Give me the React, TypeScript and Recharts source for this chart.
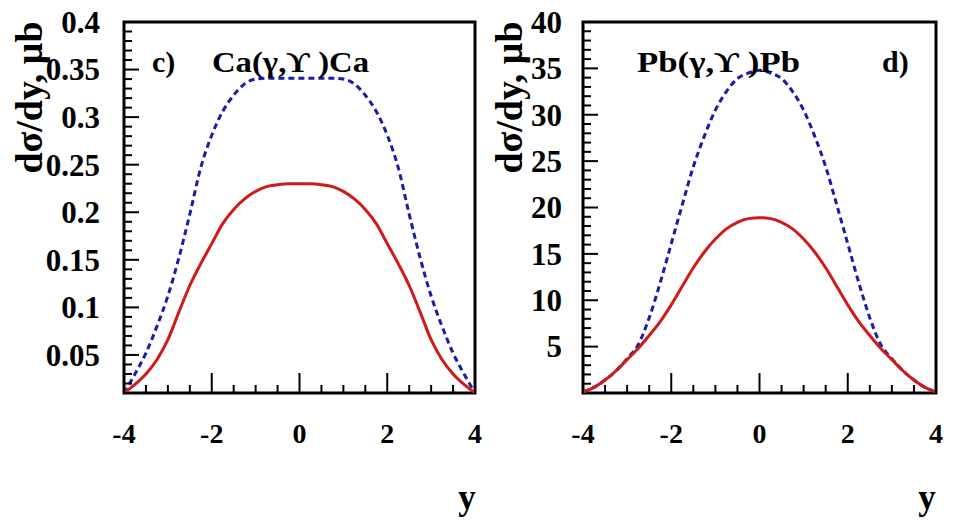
import { Line, LineChart, ReferenceArea, XAxis, YAxis } from "recharts";

const FONT = "Liberation Serif, DejaVu Serif, Times New Roman, serif";
const RED = "#d01a1a";
const BLUE = "#1c1ca6";

// rapidity grid
const rapidity = [
  -4, -3.75, -3.5, -3.25, -3, -2.75, -2.5, -2.25, -2, -1.75, -1.5, -1.25, -1,
  -0.75, -0.5, -0.25, 0, 0.25, 0.5, 0.75, 1, 1.25, 1.5, 1.75, 2, 2.25, 2.5,
  2.75, 3, 3.25, 3.5, 3.75, 4,
];

// Ca(γ,Υ)Ca, μb
const caSolid = [
  0.01, 0.019, 0.03, 0.045, 0.066, 0.095, 0.123, 0.146, 0.167, 0.188, 0.203,
  0.214, 0.222, 0.227, 0.229, 0.23, 0.23, 0.23, 0.229, 0.227, 0.222, 0.214,
  0.203, 0.188, 0.167, 0.146, 0.123, 0.095, 0.066, 0.045, 0.03, 0.019, 0.01,
];
const caDashed = [
  0.01, 0.03, 0.052, 0.08, 0.112, 0.152, 0.198, 0.247, 0.281, 0.306, 0.323,
  0.335, 0.34, 0.341, 0.341, 0.341, 0.341, 0.341, 0.341, 0.341, 0.34, 0.335,
  0.323, 0.306, 0.281, 0.247, 0.198, 0.152, 0.112, 0.08, 0.052, 0.03, 0.01,
];

// Pb(γ,Υ)Pb, μb
const pbSolid = [
  0.1, 0.6, 1.4, 2.4, 3.6, 4.8, 6.2, 7.7, 9.5, 11.5, 13.5, 15.2, 16.6, 17.7,
  18.4, 18.8, 18.9, 18.8, 18.4, 17.7, 16.6, 15.2, 13.5, 11.5, 9.5, 7.7, 6.2,
  4.8, 3.6, 2.4, 1.4, 0.6, 0.1,
];
const pbDashed = [
  0.1, 0.6, 1.4, 2.4, 3.7, 5.2, 8.1, 11.9, 16.1, 20.3, 24.4, 27.7, 30.5, 32.5,
  33.9, 34.5, 34.8, 34.5, 33.9, 32.5, 30.5, 27.7, 24.4, 20.3, 16.1, 11.9, 8.1,
  5.2, 3.7, 2.4, 1.4, 0.6, 0.1,
];

// axis ticks
const xMajorTicks = [-4, -2, 0, 2, 4];
const caYMajorTicks = [0.05, 0.1, 0.15, 0.2, 0.25, 0.3, 0.35, 0.4];
const pbYMajorTicks = [5, 10, 15, 20, 25, 30, 35, 40];

const xTicks = Array.from({ length: 17 }, (_, i) => i / 2 - 4);
const caYTicks = Array.from({ length: 40 }, (_, i) => (i + 1) / 100);
const pbYTicks = Array.from({ length: 40 }, (_, i) => i + 1);

const caRows = rapidity.map((y, i) => ({ y, solid: caSolid[i], dashed: caDashed[i] }));
const pbRows = rapidity.map((y, i) => ({ y, solid: pbSolid[i], dashed: pbDashed[i] }));

const isIn = (list: number[], v: number) => list.some((m) => Math.abs(m - v) < 1e-9);

const labelStyle = { fontFamily: FONT, fontWeight: 700 };

function XTick(props: any) {
  const { x, y, payload } = props;
  const major = isIn(xMajorTicks, payload.value);
  return (
    <g>
      <line x1={x} y1={y} x2={x} y2={y - (major ? 20 : 8)} stroke="#000" strokeWidth={2} />
      {major && (
        <text x={x} y={y + 50} textAnchor="middle" style={labelStyle} fontSize={28} fill="#000">
          {String(payload.value)}
        </text>
      )}
    </g>
  );
}

function makeYTick(majors: number[], gap: number) {
  return function YTick(props: any) {
    const { x, y, payload } = props;
    const major = isIn(majors, payload.value);
    return (
      <g>
        <line x1={x} y1={y} x2={x + (major ? 15 : 8)} y2={y} stroke="#000" strokeWidth={2} />
        {major && (
          <text x={x - gap} y={y} dy="0.35em" textAnchor="end" style={labelStyle} fontSize={31} fill="#000">
            {String(payload.value)}
          </text>
        )}
      </g>
    );
  };
}

type PanelProps = {
  rows: Array<{ y: number; solid: number; dashed: number }>;
  yDomain: [number, number];
  yTicks: number[];
  yMajors: number[];
  labelGap: number;
  width: number;
  marginLeft: number;
  marginRight: number;
};

function Panel({ rows, yDomain, yTicks, yMajors, labelGap, width, marginLeft, marginRight }: PanelProps) {
  return (
    <LineChart
      width={width}
      height={522}
      data={rows}
      margin={{ top: 22, right: marginRight, bottom: 89, left: marginLeft }}
      style={{ overflow: "visible" }}
    >
      <XAxis
        dataKey="y"
        type="number"
        domain={[-4, 4]}
        ticks={xTicks}
        interval={0}
        tickSize={0}
        tickMargin={0}
        axisLine={false}
        tick={XTick}
        height={40}
        allowDataOverflow
      />
      <YAxis
        type="number"
        domain={yDomain}
        ticks={yTicks}
        interval={0}
        tickSize={0}
        tickMargin={0}
        axisLine={false}
        tick={makeYTick(yMajors, labelGap)}
        width={100}
        allowDataOverflow
      />
      <Line
        dataKey="dashed"
        type="monotone"
        stroke={BLUE}
        strokeWidth={3}
        strokeDasharray="6 4"
        dot={false}
        isAnimationActive={false}
      />
      <Line
        dataKey="solid"
        type="monotone"
        stroke={RED}
        strokeWidth={3}
        dot={false}
        isAnimationActive={false}
      />
      <ReferenceArea
        x1={-4}
        x2={4}
        y1={yDomain[0]}
        y2={yDomain[1]}
        fill="none"
        fillOpacity={0}
        stroke="#000"
        strokeWidth={3}
        ifOverflow="visible"
      />
    </LineChart>
  );
}

export default function App() {
  const text = { style: labelStyle, fill: "#000" };
  return (
    <div
      style={{
        position: "absolute",
        left: 0,
        top: 0,
        width: 955,
        height: 522,
        background: "#fff",
        fontFamily: FONT,
      }}
    >
      <div style={{ position: "absolute", left: 0, top: 0 }}>
        <Panel
          rows={caRows}
          yDomain={[0.01, 0.4]}
          yTicks={caYTicks}
          yMajors={caYMajorTicks}
          labelGap={24}
          width={500}
          marginLeft={24}
          marginRight={25}
        />
      </div>
      <div style={{ position: "absolute", left: 480, top: 0 }}>
        <Panel
          rows={pbRows}
          yDomain={[0, 40]}
          yTicks={pbYTicks}
          yMajors={pbYMajorTicks}
          labelGap={21}
          width={475}
          marginLeft={3}
          marginRight={19}
        />
      </div>
      <svg
        width={955}
        height={522}
        style={{ position: "absolute", left: 0, top: 0, pointerEvents: "none" }}
      >
        <text {...text} fontSize={38} textAnchor="middle" transform="translate(42,97.5) rotate(-90)">
          dσ/dy, μb
        </text>
        <text {...text} fontSize={38} textAnchor="middle" transform="translate(522,97.5) rotate(-90)">
          dσ/dy, μb
        </text>
        <text {...text} fontSize={30} x={152} y={72}>
          c)
        </text>
        <text {...text} fontSize={30} x={212} y={72} textLength={157} lengthAdjust="spacingAndGlyphs">
          Ca(γ,ϒ )Ca
        </text>
        <text {...text} fontSize={30} x={637} y={72} textLength={163} lengthAdjust="spacingAndGlyphs">
          Pb(γ,ϒ )Pb
        </text>
        <text {...text} fontSize={30} x={882} y={72}>
          d)
        </text>
        <text {...text} fontSize={35} x={467} y={509} textAnchor="middle">
          y
        </text>
        <text {...text} fontSize={35} x={927} y={509} textAnchor="middle">
          y
        </text>
      </svg>
    </div>
  );
}
